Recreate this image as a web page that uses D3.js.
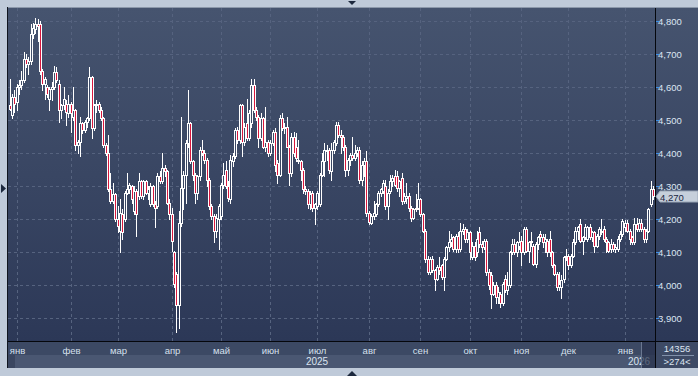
<!DOCTYPE html>
<html>
<head>
<meta charset="utf-8">
<script src="https://cdn.jsdelivr.net/npm/d3@7"></script>
<style>
  html, body { margin: 0; padding: 0; background: #bfcad9; }
  svg { display: block; }
  text { font-family: "Liberation Sans", Arial, sans-serif; }
</style>
</head>
<body>
<div id="chart"></div>
<script>
// daily candles [open, high, low, close]
const ohlc = [
  [4545,4625,4530,4535],[4515,4578,4505,4570],[4570,4590,4525,4550],[4555,4610,4530,4600],[4600,4620,4580,4605],
  [4605,4648,4595,4620],[4620,4705,4615,4685],[4685,4700,4660,4670],[4670,4690,4640,4680],[4680,4790,4670,4760],
  [4760,4795,4750,4780],[4775,4810,4765,4790],[4790,4805,4740,4785],[4790,4800,4640,4650],[4650,4655,4590,4610],
  [4610,4630,4565,4625],[4600,4605,4570,4580],[4565,4600,4530,4595],[4595,4615,4560,4600],[4600,4665,4595,4645],
  [4645,4660,4615,4620],[4610,4620,4495,4530],[4530,4550,4505,4545],[4545,4600,4535,4565],[4550,4560,4485,4525],
  [4520,4575,4510,4550],[4550,4555,4465,4520],[4510,4600,4500,4530],[4530,4535,4410,4425],[4425,4440,4400,4435],
  [4435,4510,4390,4490],[4490,4495,4460,4470],[4470,4500,4465,4495],[4495,4510,4480,4505],[4505,4660,4500,4630],
  [4630,4635,4445,4475],[4475,4550,4470,4545],[4545,4560,4525,4550],[4550,4555,4525,4530],[4530,4540,4500,4505],
  [4505,4510,4420,4425],[4425,4430,4395,4400],[4400,4455,4285,4290],[4290,4340,4250,4255],[4255,4310,4250,4275],
  [4275,4280,4195,4200],[4200,4240,4160,4180],[4165,4260,4100,4220],[4215,4230,4140,4160],[4200,4285,4195,4280],
  [4280,4340,4275,4290],[4290,4310,4280,4305],[4300,4305,4250,4260],[4225,4300,4215,4285],[4285,4290,4150,4215],
  [4270,4340,4260,4315],[4315,4320,4265,4270],[4270,4320,4260,4315],[4315,4320,4275,4280],[4280,4300,4260,4290],
  [4245,4310,4240,4300],[4300,4305,4240,4245],[4245,4255,4175,4235],[4240,4340,4235,4330],[4330,4345,4310,4315],
  [4315,4400,4310,4355],[4355,4365,4330,4345],[4345,4350,4245,4250],[4250,4260,4200,4215],[4215,4235,4105,4135],
  [4100,4105,3995,4005],[4035,4040,3860,3940],[3940,4225,3870,4190],[4190,4510,4180,4295],[4295,4345,4230,4335],
  [4335,4440,4250,4430],[4430,4590,4420,4490],[4490,4495,4370,4375],[4375,4380,4320,4335],[4335,4340,4250,4280],
  [4280,4335,4260,4330],[4330,4420,4320,4410],[4410,4440,4395,4400],[4400,4410,4370,4380],[4380,4385,4300,4320],
  [4320,4325,4230,4240],[4240,4245,4200,4210],[4210,4215,4130,4165],[4165,4215,4145,4205],[4200,4245,4110,4240],
  [4210,4310,4200,4305],[4305,4370,4295,4335],[4350,4375,4295,4300],[4300,4315,4255,4265],[4260,4395,4250,4380],
  [4375,4400,4360,4390],[4390,4475,4385,4470],[4470,4480,4430,4440],[4440,4550,4430,4545],[4545,4550,4390,4435],
  [4435,4490,4425,4480],[4490,4565,4440,4445],[4445,4530,4440,4520],[4490,4625,4480,4605],[4605,4625,4525,4530],
  [4530,4540,4500,4510],[4510,4515,4420,4445],[4445,4520,4440,4505],[4505,4510,4415,4420],[4420,4540,4405,4435],
  [4435,4440,4390,4400],[4400,4440,4395,4430],[4430,4470,4425,4465],[4465,4475,4345,4365],[4370,4380,4310,4335],
  [4335,4515,4330,4505],[4505,4520,4470,4475],[4475,4490,4460,4480],[4480,4510,4420,4420],[4420,4425,4305,4340],
  [4340,4460,4330,4450],[4450,4465,4390,4400],[4420,4460,4375,4385],[4380,4440,4370,4375],[4375,4380,4320,4350],
  [4350,4355,4280,4290],[4290,4300,4275,4285],[4285,4290,4235,4245],[4245,4285,4230,4275],[4280,4285,4225,4235],
  [4235,4250,4185,4245],[4240,4285,4230,4280],[4245,4340,4240,4335],[4335,4400,4330,4375],[4375,4430,4330,4410],
  [4410,4425,4380,4410],[4410,4415,4340,4350],[4345,4430,4320,4410],[4410,4440,4400,4435],[4430,4495,4425,4485],
  [4485,4495,4450,4455],[4455,4470,4400,4450],[4450,4455,4410,4420],[4420,4425,4330,4350],[4350,4385,4335,4380],
  [4380,4400,4365,4395],[4395,4450,4380,4385],[4385,4425,4380,4400],[4400,4420,4390,4410],[4410,4420,4310,4320],
  [4320,4375,4305,4365],[4365,4385,4330,4375],[4375,4405,4210,4220],[4220,4225,4185,4192],[4190,4215,4185,4210],
  [4210,4255,4200,4220],[4215,4250,4210,4245],[4245,4285,4240,4280],[4280,4295,4270,4290],[4285,4320,4280,4310],
  [4300,4320,4230,4240],[4240,4290,4200,4280],[4285,4335,4280,4315],[4315,4335,4300,4325],[4330,4350,4300,4305],
  [4330,4345,4285,4295],[4295,4320,4270,4315],[4325,4340,4245,4255],[4255,4280,4250,4270],[4265,4310,4250,4270],
  [4270,4280,4225,4235],[4235,4240,4195,4205],[4205,4235,4200,4230],[4230,4275,4225,4235],[4235,4310,4230,4260],
  [4260,4265,4210,4215],[4215,4220,4160,4165],[4165,4170,4070,4080],[4080,4090,4035,4040],[4040,4085,4035,4080],
  [4080,4090,4040,4045],[4045,4050,3985,4020],[4020,4060,4015,4055],[4055,4085,4035,4045],[4060,4065,4020,4025],
  [4025,4085,3985,4080],[4080,4120,4075,4115],[4115,4165,4105,4130],[4130,4155,4120,4140],[4145,4150,4105,4110],
  [4110,4155,4100,4150],[4150,4160,4100,4110],[4110,4190,4105,4165],[4165,4185,4155,4170],[4170,4175,4130,4140],
  [4140,4170,4130,4160],[4160,4165,4080,4100],[4085,4130,4080,4120],[4120,4130,4075,4085],[4100,4165,4090,4140],
  [4160,4175,4115,4125],[4125,4135,4100,4115],[4115,4140,4110,4135],[4135,4140,4030,4040],[4040,4050,3990,4000],
  [4030,4040,3930,3975],[3975,4010,3970,4000],[4000,4010,3945,3965],[3965,3995,3945,3980],[3975,3980,3935,3945],
  [3945,4010,3940,4005],[4020,4030,3980,3985],[3985,4040,3975,4000],[4000,4105,3995,4100],[4100,4140,4095,4125],
  [4125,4140,4095,4100],[4100,4135,4090,4130],[4120,4160,4110,4130],[4135,4150,4060,4100],[4100,4175,4095,4170],
  [4170,4175,4100,4105],[4105,4135,4070,4130],[4130,4160,4120,4135],[4120,4125,4060,4065],[4065,4130,4055,4125],
  [4125,4150,4110,4145],[4155,4165,4135,4145],[4145,4155,4115,4130],[4130,4155,4100,4140],[4135,4140,4090,4100],
  [4140,4165,4090,4100],[4100,4105,4055,4060],[4060,4065,4030,4035],[4035,4040,3985,3995],[3995,4040,3985,4005],
  [3995,4030,3960,4015],[4020,4090,4010,4085],[4085,4110,4075,4090],[4090,4095,4050,4060],[4060,4095,4055,4090],
  [4090,4140,4085,4130],[4130,4175,4125,4165],[4165,4180,4140,4175],[4185,4200,4130,4135],[4135,4150,4095,4145],
  [4145,4185,4140,4175],[4140,4180,4135,4175],[4175,4185,4140,4145],[4145,4165,4135,4160],[4160,4165,4100,4120],
  [4120,4155,4115,4150],[4150,4175,4140,4170],[4165,4200,4155,4160],[4170,4180,4135,4140],[4140,4145,4100,4130],
  [4130,4135,4100,4105],[4110,4140,4100,4125],[4125,4130,4105,4110],[4110,4125,4100,4115],[4110,4150,4105,4140],
  [4140,4165,4135,4155],[4155,4200,4150,4195],[4175,4198,4165,4190],[4190,4198,4160,4165],[4165,4170,4125,4140],
  [4145,4150,4125,4130],[4130,4205,4125,4185],[4185,4205,4165,4170],[4170,4200,4165,4190],[4190,4200,4165,4170],
  [4170,4175,4130,4140],[4140,4170,4130,4165],[4165,4235,4160,4230],[4245,4315,4240,4290],[4290,4300,4260,4270]
];

const monthLabels = ['янв','фев','мар','апр','май','июн','июл','авг','сен','окт','ноя','дек','янв'];
const monthStartIdx = [3, 26, 46, 69, 90, 111, 131, 153, 175, 196, 218, 238, 262];
const yearLabels = ['2025', '2026'];
const yearLabelIdx = [131, 268];
const yTicks = [3900, 4000, 4100, 4200, 4300, 4400, 4500, 4600, 4700, 4800];
const lastPrice = 4270;
const volumeText = '14356';
const barCountText = '>274<';

const W = 698, H = 376;
const plotLeft = 8, plotTop = 8, plotRight = 655, plotBottom = 341;
const monthBottom = 355, yearBottom = 368;

const fmt = d3.format(',');

const svg = d3.select('#chart')
  .append('svg')
  .attr('width', W)
  .attr('height', H);

const defs = svg.append('defs');
const grad = defs.append('linearGradient')
  .attr('id', 'bg')
  .attr('gradientUnits', 'userSpaceOnUse')
  .attr('x1', 0).attr('y1', plotTop).attr('x2', 0).attr('y2', plotBottom);
grad.append('stop').attr('offset', '0%').attr('stop-color', '#46546f');
grad.append('stop').attr('offset', '100%').attr('stop-color', '#2c3857');

defs.append('clipPath').attr('id', 'clip')
  .append('rect')
  .attr('x', plotLeft).attr('y', plotTop)
  .attr('width', plotRight - plotLeft).attr('height', plotBottom - plotTop);

// panel backgrounds
svg.append('rect')
  .attr('x', plotLeft).attr('y', plotTop)
  .attr('width', W - plotLeft).attr('height', plotBottom - plotTop)
  .attr('fill', 'url(#bg)');
svg.append('rect')
  .attr('x', plotLeft).attr('y', plotBottom)
  .attr('width', W - plotLeft).attr('height', monthBottom - plotBottom)
  .attr('fill', '#3c4964');
svg.append('rect')
  .attr('x', plotLeft).attr('y', monthBottom)
  .attr('width', plotRight - plotLeft).attr('height', yearBottom - monthBottom)
  .attr('fill', '#4a5772');
svg.append('rect')
  .attr('x', plotLeft).attr('y', monthBottom)
  .attr('width', 7).attr('height', yearBottom - monthBottom)
  .attr('fill', '#3a4660');
svg.append('rect')
  .attr('x', plotRight).attr('y', plotBottom)
  .attr('width', W - plotRight).attr('height', yearBottom - plotBottom)
  .attr('fill', '#3d4a65');

// scales
const x = d3.scaleLinear()
  .domain([0, ohlc.length - 1])
  .range([9.5, 653]);
const y = d3.scaleLinear()
  .domain([3900, 4800])
  .range([318.3, 21]);

const px = v => Math.round(x(v));
const py = v => Math.round(y(v));

// grid
const grid = svg.append('g')
  .attr('stroke', '#56637f')
  .attr('stroke-width', 1)
  .attr('stroke-dasharray', '3,3');
grid.selectAll('line.h')
  .data(yTicks)
  .join('line')
  .attr('class', 'h')
  .attr('x1', plotLeft).attr('x2', plotRight)
  .attr('y1', d => py(d) + 0.5).attr('y2', d => py(d) + 0.5);
grid.selectAll('line.v')
  .data(monthStartIdx)
  .join('line')
  .attr('class', 'v')
  .attr('x1', d => px(d) + 0.5).attr('x2', d => px(d) + 0.5)
  .attr('y1', plotTop).attr('y2', plotBottom);

// candles
const candles = svg.append('g')
  .attr('clip-path', 'url(#clip)')
  .selectAll('g')
  .data(ohlc)
  .join('g');

candles.append('line')
  .attr('x1', (d, i) => px(i) + 0.5)
  .attr('x2', (d, i) => px(i) + 0.5)
  .attr('y1', d => py(d[1]))
  .attr('y2', d => py(d[2]) + 1)
  .attr('stroke', '#ffffff')
  .attr('stroke-width', 1);

candles.append('rect')
  .attr('x', (d, i) => px(i) - 0.5)
  .attr('y', d => py(Math.max(d[0], d[3])) + 0.5)
  .attr('width', 2)
  .attr('height', d => Math.max(1, py(Math.min(d[0], d[3])) - py(Math.max(d[0], d[3]))))
  .attr('fill', d => d[3] < d[0] ? '#d8173d' : 'url(#bg)')
  .attr('stroke', '#ffffff')
  .attr('stroke-width', 1);

// frame lines
svg.append('line')
  .attr('x1', plotLeft).attr('x2', W).attr('y1', plotTop - 0.5).attr('y2', plotTop - 0.5)
  .attr('stroke', '#8c98aa');
svg.append('line')
  .attr('x1', plotLeft - 0.5).attr('x2', plotLeft - 0.5).attr('y1', plotTop - 1).attr('y2', yearBottom)
  .attr('stroke', '#10151f');
svg.append('line')
  .attr('x1', plotLeft).attr('x2', W).attr('y1', plotBottom + 0.5).attr('y2', plotBottom + 0.5)
  .attr('stroke', '#05070c');
svg.append('line')
  .attr('x1', plotRight + 0.5).attr('x2', plotRight + 0.5).attr('y1', plotTop).attr('y2', yearBottom)
  .attr('stroke', '#05070c');

// y axis ticks and labels
svg.append('g')
  .selectAll('line')
  .data(yTicks)
  .join('line')
  .attr('x1', plotRight + 1).attr('x2', plotRight + 4)
  .attr('y1', d => py(d) + 0.5).attr('y2', d => py(d) + 0.5)
  .attr('stroke', '#3f8fe6');
svg.append('g')
  .selectAll('text')
  .data(yTicks)
  .join('text')
  .attr('x', plotRight + 3)
  .attr('y', d => py(d) + 4)
  .attr('fill', '#dce5f1')
  .style('font-size', '9.5px')
  .text(d => fmt(d));

// month labels
svg.append('g')
  .selectAll('text')
  .data(monthLabels)
  .join('text')
  .attr('x', (d, i) => px(monthStartIdx[i]) + 0.5)
  .attr('y', 353.5)
  .attr('text-anchor', 'middle')
  .attr('fill', '#d6e0ee')
  .style('font-size', '9.5px')
  .text(d => d);

// year labels
svg.append('g')
  .selectAll('text')
  .data(yearLabels)
  .join('text')
  .attr('x', (d, i) => px(yearLabelIdx[i]))
  .attr('y', 364.5)
  .attr('text-anchor', 'middle')
  .attr('fill', '#dbe4f0')
  .style('font-size', '10px')
  .text(d => d);

// scroll thumb over the last part of the time band
svg.append('rect')
  .attr('x', 642).attr('y', plotBottom + 1)
  .attr('width', plotRight - 642).attr('height', yearBottom - plotBottom - 1)
  .attr('fill', '#26314a').attr('fill-opacity', 0.7);
svg.append('line')
  .attr('x1', 641.5).attr('x2', 641.5).attr('y1', plotBottom + 1).attr('y2', yearBottom)
  .attr('stroke', '#6a7790');

// bottom-right info box
svg.append('line')
  .attr('x1', 662).attr('x2', 694).attr('y1', monthBottom + 0.5).attr('y2', monthBottom + 0.5)
  .attr('stroke', '#8191aa');
svg.append('text')
  .attr('x', 677).attr('y', 352)
  .attr('text-anchor', 'middle')
  .attr('fill', '#dce5f1')
  .style('font-size', '9.5px')
  .text(volumeText);
svg.append('text')
  .attr('x', 677).attr('y', 364.5)
  .attr('text-anchor', 'middle')
  .attr('fill', '#dce5f1')
  .style('font-size', '9.5px')
  .text(barCountText);

// last price marker
const ly = py(lastPrice) + 0.5;
svg.append('path')
  .attr('d', `M${plotRight + 1},${ly} L${plotRight + 5},${ly - 5.5} L${W},${ly - 5.5} L${W},${ly + 5.5} L${plotRight + 5},${ly + 5.5} Z`)
  .attr('fill', '#c6cfdb')
  .attr('stroke', '#9ba7b8');
svg.append('text')
  .attr('x', plotRight + 5)
  .attr('y', ly + 4)
  .attr('fill', '#1a2540')
  .style('font-size', '9.5px')
  .text(fmt(lastPrice));

// small navigation arrows on the frame
svg.append('path').attr('d', 'M348,1 L356,1 L352,5 Z').attr('fill', '#1c283d');
svg.append('path').attr('d', 'M347,376 L357,376 L352,371 Z').attr('fill', '#1c283d');
svg.append('path').attr('d', 'M1,184 L1,193 L6,188.5 Z').attr('fill', '#1c283d');
</script>
</body>
</html>
